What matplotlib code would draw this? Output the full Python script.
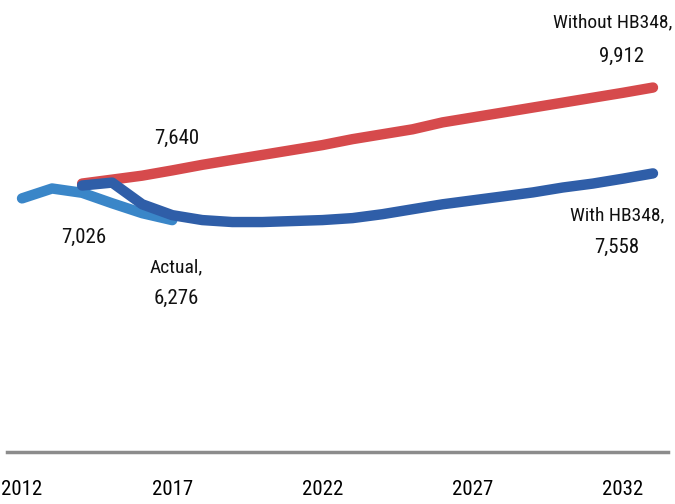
import matplotlib
matplotlib.use("Agg")
import matplotlib.pyplot as plt
from matplotlib import font_manager

fl = font_manager.fontManager.ttflist
names = {f.name for f in fl}
STRETCH = 'normal'
FAM = None
for cand in ['Liberation Sans Narrow', 'Arial Narrow', 'Roboto Condensed', 'Open Sans Condensed',
             'Noto Sans Condensed', 'DejaVu Sans Condensed']:
    if cand in names:
        FAM = cand
        break
if FAM is None:
    cond = [f for f in fl if str(f.stretch) in ('condensed', 'semi-condensed', 'extra-condensed') or
            (isinstance(f.stretch, int) and f.stretch < 500)]
    cond_names = [f.name for f in cond]
    for pref in ['Roboto', 'Open Sans', 'Noto Sans', 'DejaVu Sans', 'Liberation Sans']:
        if pref in cond_names:
            FAM = pref
            STRETCH = 'condensed'
            break
if FAM is None:
    FAM = 'Liberation Sans'
plt.rcParams['font.family'] = [FAM, 'DejaVu Sans']
plt.rcParams['font.stretch'] = STRETCH

actual_years = [2012, 2013, 2014, 2015, 2016, 2017]
actual_vals = [6873, 7144, 7026, 6738, 6467, 6276]

proj_years = list(range(2014, 2034))
without_vals = [7279, 7387, 7496, 7640, 7793, 7929, 8064, 8199, 8334, 8497,
                8632, 8767, 8957, 9092, 9227, 9363, 9498, 9633, 9768, 9912]
with_vals = [7225, 7306, 6711, 6413, 6278, 6224, 6224, 6251, 6278, 6332,
             6440, 6576, 6711, 6819, 6927, 7036, 7171, 7279, 7414, 7558]

tick_years = [2012, 2017, 2022, 2027, 2032]

W, H = 675, 504
fig = plt.figure(figsize=(W / 100, H / 100), dpi=100)
ax = fig.add_axes([7 / W, (H - 452) / H, (668 - 7) / W, 452 / H])

lw = 7.5
ax.plot(actual_years, actual_vals, color='#3a86c8', lw=lw, solid_capstyle='round', solid_joinstyle='round', zorder=2)
ax.plot(proj_years, without_vals, color='#d64a4c', lw=lw, solid_capstyle='round', solid_joinstyle='round', zorder=3)
ax.plot(proj_years, with_vals, color='#2f5ea8', lw=lw, solid_capstyle='round', solid_joinstyle='round', zorder=4)

ax.set_xlim(2011.5, 2033.5)
ax.set_ylim(-81, 12312)
for s in ['top', 'left', 'right']:
    ax.spines[s].set_visible(False)
ax.spines['bottom'].set_color('#8c8c8c')
ax.spines['bottom'].set_linewidth(2.5)
ax.set_yticks([])
ax.set_xticks(tick_years)
ax.set_xticklabels([str(y) for y in tick_years])
ax.tick_params(axis='x', length=0, pad=20, labelsize=15)

def label(px, py, s, size=15, ha='center'):
    fig.text(px / W, 1 - py / H, s, ha=ha, va='center', fontsize=size, color='#111111')

label(672, 22, 'Without HB348,', size=14, ha='right')
label(622, 56, f"{without_vals[-1]:,}")
label(177, 138, f"{without_vals[3]:,}")
label(84, 237, f"{actual_vals[2]:,}")
label(176, 267, 'Actual,', size=14)
label(176, 298, f"{actual_vals[-1]:,}")
label(617, 215, 'With HB348,', size=14)
label(617, 247, f"{with_vals[-1]:,}")

fig.savefig('out.png', dpi=100)
